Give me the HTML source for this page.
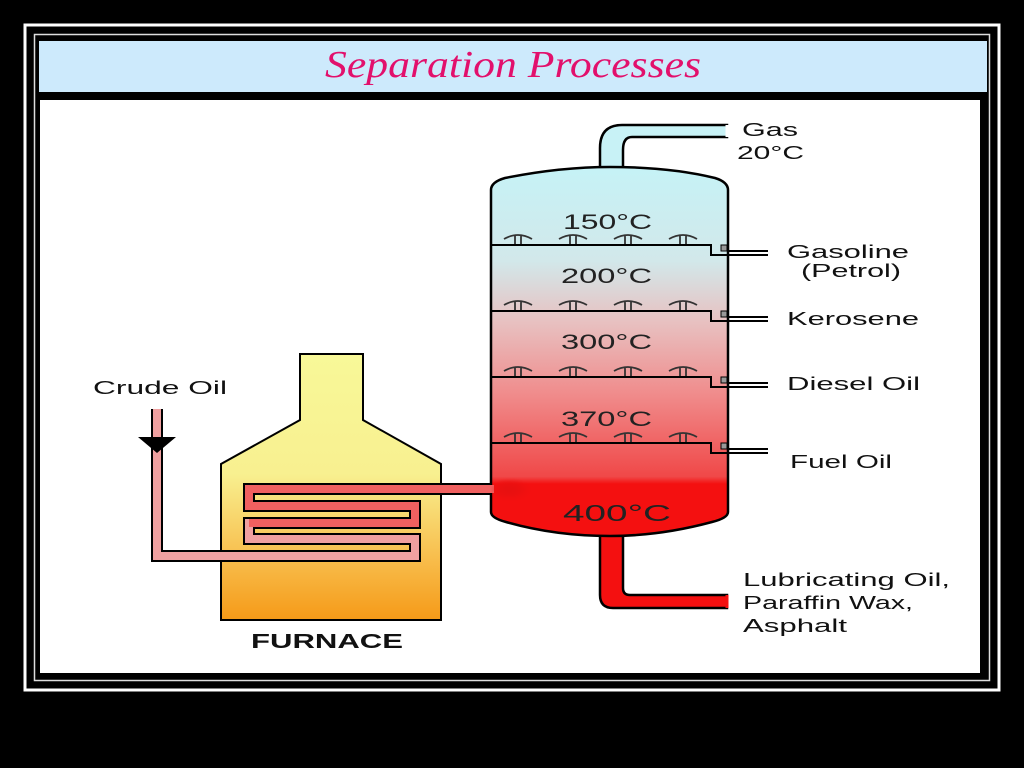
<!DOCTYPE html>
<html><head><meta charset="utf-8"><style>
html,body{margin:0;padding:0;background:#000;}
svg{display:block}
text{font-family:"Liberation Sans",sans-serif;}
</style></head><body>
<svg width="1024" height="768" viewBox="0 0 1024 768">
<defs>
<linearGradient id="col" x1="0" y1="170" x2="0" y2="535" gradientUnits="userSpaceOnUse">
<stop offset="0" stop-color="#c6f2f6"/>
<stop offset="0.25" stop-color="#d2e8ea"/>
<stop offset="0.42" stop-color="#e8c0c0"/>
<stop offset="0.62" stop-color="#f08a8a"/>
<stop offset="0.84" stop-color="#f04848"/>
<stop offset="0.86" stop-color="#f41010"/>
<stop offset="1" stop-color="#f41010"/>
</linearGradient>
<linearGradient id="fur" x1="0" y1="354" x2="0" y2="620" gradientUnits="userSpaceOnUse">
<stop offset="0" stop-color="#f8f898"/>
<stop offset="0.45" stop-color="#f8f090"/>
<stop offset="0.75" stop-color="#f8c050"/>
<stop offset="1" stop-color="#f59a18"/>
</linearGradient>
<radialGradient id="spot"><stop offset="0" stop-color="#e81010"/><stop offset="1" stop-color="#e81010" stop-opacity="0"/></radialGradient>
</defs>
<rect width="1024" height="768" fill="#000"/>
<rect x="25" y="25" width="974" height="665" fill="none" stroke="#fff" stroke-width="3"/>
<rect x="34.5" y="34.5" width="955" height="646" fill="none" stroke="#ddd" stroke-width="1.5"/>
<rect x="39" y="41" width="948" height="51" fill="#cdeafc"/>
<text x="325" y="77" font-style="italic" font-size="38" fill="#e2106c" textLength="376" lengthAdjust="spacingAndGlyphs" style="font-family:'Liberation Serif',serif">Separation Processes</text>
<rect x="40" y="100" width="940" height="573" fill="#fff"/>

<path d="M600,185 V148 Q600,125 622,125 H727 V137 H632 Q623,137 623,150 V185 Z" fill="#c8f2f6" stroke="#000" stroke-width="2.5"/>
<path d="M727,125 V137" stroke="#fff" stroke-width="3"/>
<path d="M600,525 V595 Q600,608 613,608 H727 V595 H630 Q623,595 623,588 V525 Z" fill="#f41010" stroke="#000" stroke-width="2.5"/>
<path d="M727,595 V608" stroke="#f41010" stroke-width="3"/>
<path d="M491,512 V190 Q491,182 505,178 Q560,167 610,167 Q670,167 715,178 Q728,182 728,190 V512 Q728,518 712,522 Q660,536 610,536 Q555,536 506,522 Q491,518 491,512 Z" fill="url(#col)" stroke="#000" stroke-width="2.5"/>
<ellipse cx="510" cy="490" rx="22" ry="12" fill="url(#spot)"/>

<g fill="none" stroke="#000" stroke-width="2">
<path d="M492,245 H711 V255 H768"/><path d="M727,251 H768"/>
<path d="M492,311 H711 V321 H768"/><path d="M727,317 H768"/>
<path d="M492,377 H711 V387 H768"/><path d="M727,383 H768"/>
<path d="M492,443 H711 V453 H768"/><path d="M727,449 H768"/>
</g>
<g fill="#999" stroke="#000" stroke-width="1">
<rect x="721" y="245" width="6" height="6"/><rect x="721" y="311" width="6" height="6"/><rect x="721" y="377" width="6" height="6"/><rect x="721" y="443" width="6" height="6"/>
</g>
<g fill="none" stroke="#333" stroke-width="1.8">
<path d="M504,239 Q518,231 532,239 M515,236 V244 M521,236 V244 M559,239 Q573,231 587,239 M570,236 V244 M576,236 V244 M614,239 Q628,231 642,239 M625,236 V244 M631,236 V244 M669,239 Q683,231 697,239 M680,236 V244 M686,236 V244"/>
<path transform="translate(0,66)" d="M504,239 Q518,231 532,239 M515,236 V244 M521,236 V244 M559,239 Q573,231 587,239 M570,236 V244 M576,236 V244 M614,239 Q628,231 642,239 M625,236 V244 M631,236 V244 M669,239 Q683,231 697,239 M680,236 V244 M686,236 V244"/>
<path transform="translate(0,132)" d="M504,239 Q518,231 532,239 M515,236 V244 M521,236 V244 M559,239 Q573,231 587,239 M570,236 V244 M576,236 V244 M614,239 Q628,231 642,239 M625,236 V244 M631,236 V244 M669,239 Q683,231 697,239 M680,236 V244 M686,236 V244"/>
<path transform="translate(0,198)" d="M504,239 Q518,231 532,239 M515,236 V244 M521,236 V244 M559,239 Q573,231 587,239 M570,236 V244 M576,236 V244 M614,239 Q628,231 642,239 M625,236 V244 M631,236 V244 M669,239 Q683,231 697,239 M680,236 V244 M686,236 V244"/>
</g>
<g font-size="21" fill="#222">
<text x="563" y="229" textLength="89" lengthAdjust="spacingAndGlyphs">150°C</text>
<text x="561" y="283" textLength="91" lengthAdjust="spacingAndGlyphs">200°C</text>
<text x="561" y="349" textLength="91" lengthAdjust="spacingAndGlyphs">300°C</text>
<text x="561" y="426" textLength="91" lengthAdjust="spacingAndGlyphs">370°C</text>
<text x="563" y="521" font-size="23" textLength="108" lengthAdjust="spacingAndGlyphs">400°C</text>
</g>
<g font-size="18" fill="#111">
<text x="742" y="136" textLength="56" lengthAdjust="spacingAndGlyphs">Gas</text>
<text x="737" y="159" textLength="67" lengthAdjust="spacingAndGlyphs">20°C</text>
<text x="787" y="258" textLength="122" lengthAdjust="spacingAndGlyphs">Gasoline</text>
<text x="801" y="277" textLength="100" lengthAdjust="spacingAndGlyphs">(Petrol)</text>
<text x="787" y="325" textLength="132" lengthAdjust="spacingAndGlyphs">Kerosene</text>
<text x="787" y="390" textLength="133" lengthAdjust="spacingAndGlyphs">Diesel Oil</text>
<text x="790" y="468" textLength="102" lengthAdjust="spacingAndGlyphs">Fuel Oil</text>
<text x="743" y="586" textLength="207" lengthAdjust="spacingAndGlyphs">Lubricating Oil,</text>
<text x="743" y="609" textLength="170" lengthAdjust="spacingAndGlyphs">Paraffin Wax,</text>
<text x="743" y="632" textLength="104" lengthAdjust="spacingAndGlyphs">Asphalt</text>
<text x="93" y="394" textLength="134" lengthAdjust="spacingAndGlyphs">Crude Oil</text>
</g>

<path d="M300,354 H363 V420 L441,464 V620 H221 V464 L300,420 Z" fill="url(#fur)" stroke="#000" stroke-width="2"/>
<text x="251" y="648" font-size="20" font-weight="bold" fill="#111" textLength="152" lengthAdjust="spacingAndGlyphs">FURNACE</text>
<path d="M157,409 V556 H415 V539 H249 V523 H415 V506 H249 V489 H492" fill="none" stroke="#000" stroke-width="12"/>
<path d="M157,409 V556 H415 V539 H249 V523" fill="none" stroke="#f0a0a0" stroke-width="8" stroke-linecap="square"/>
<path d="M249,523 H415 V506 H249 V489 H494" fill="none" stroke="#f06060" stroke-width="8"/>
<rect x="150" y="402" width="15" height="7" fill="#fff"/>
<path d="M138,437 H176 L157,453 Z" fill="#000"/>
<ellipse cx="508" cy="489" rx="18" ry="9" fill="url(#spot)"/>
</svg>
</body></html>
